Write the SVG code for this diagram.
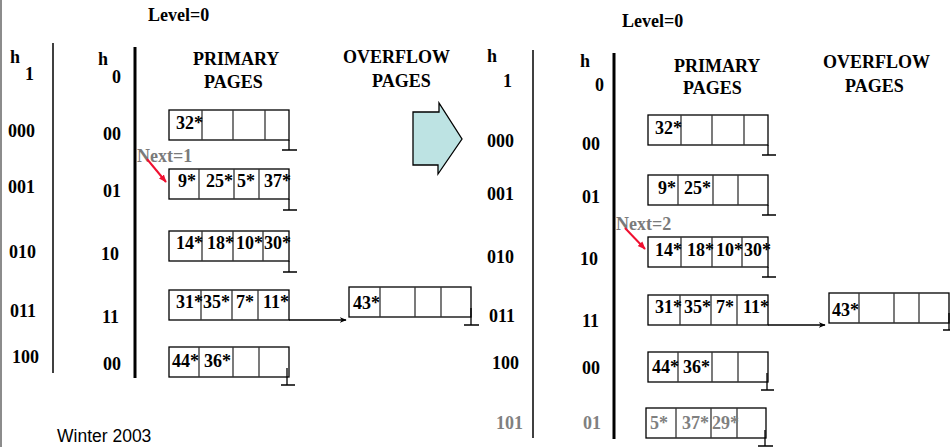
<svg xmlns="http://www.w3.org/2000/svg" width="950" height="447" viewBox="0 0 950 447">
  <style>
    .t { font-family: "Liberation Serif", "Times New Roman", serif; font-weight: bold; font-size: 18px; fill: #000; }
    .gr { fill: #808080; }
    .nx { fill: #7a7a7a; }
    .ft { font-family: "Liberation Sans", Arial, sans-serif; font-size: 17.5px; fill: #000; }
    .box { fill: #fff; stroke: #000; stroke-width: 1.3; }
    .div { stroke: #333; stroke-width: 1.3; }
    .gnd { stroke: #000; stroke-width: 1.3; fill: none; }
    .thin { stroke: #000; stroke-width: 1.5; }
    .thick { stroke: #000; stroke-width: 3; }
    .link { stroke: #000; stroke-width: 1.3; fill: none; }
    .red { stroke: #f01030; stroke-width: 2; fill: none; }
  </style>
  <defs>
    <marker id="ah" viewBox="0 0 10 10" refX="9" refY="5" markerWidth="7" markerHeight="7" markerUnits="userSpaceOnUse" orient="auto">
      <path d="M0,1 L10,5 L0,9 L3,5 Z" fill="#000"/>
    </marker>
    <marker id="ahr" viewBox="0 0 10 10" refX="9" refY="5" markerWidth="8" markerHeight="8" markerUnits="userSpaceOnUse" orient="auto">
      <path d="M0,1 L10,5 L0,9 Z" fill="#f01030"/>
    </marker>
  </defs>

  <rect x="0" y="0" width="950" height="447" fill="#fff"/>
  <!-- page edge -->
  <line x1="1" y1="0" x2="1" y2="447" stroke="#666" stroke-width="1.5"/>

  <!-- ===== before split ===== -->
  <g id="left-headers">
    <text class="t" x="148" y="21">Level=0</text>
    <text class="t" x="10" y="63">h</text>
    <text class="t" x="25" y="80">1</text>
    <text class="t" x="98" y="65">h</text>
    <text class="t" x="112" y="83">0</text>
    <text class="t" x="193" y="65">PRIMARY</text>
    <text class="t" x="204" y="88">PAGES</text>
    <text class="t" x="343" y="63">OVERFLOW</text>
    <text class="t" x="372" y="87">PAGES</text>
  </g>
  <g id="left-columns">
    <line class="thin" x1="53" y1="43" x2="53" y2="373"/>
    <line class="thick" x1="135" y1="47" x2="135" y2="378"/>
    <text class="t" x="8" y="137">000</text>
    <text class="t" x="8" y="193">001</text>
    <text class="t" x="9" y="258">010</text>
    <text class="t" x="10" y="317">011</text>
    <text class="t" x="12" y="363">100</text>
    <text class="t" x="103" y="140">00</text>
    <text class="t" x="103" y="197">01</text>
    <text class="t" x="101" y="260">10</text>
    <text class="t" x="102" y="323">11</text>
    <text class="t" x="103" y="370">00</text>
  </g>

  <g id="L-bucket-00">
    <rect class="box" x="169" y="110" width="120" height="30"/>
    <line class="div" x1="202" y1="110" x2="202" y2="140"/>
    <line class="div" x1="233" y1="110" x2="233" y2="140"/>
    <line class="div" x1="265" y1="110" x2="265" y2="140"/>
    <text class="t" x="176" y="129">32*</text>
    <path class="gnd" d="M289,140 V150 M282,150 H297"/>
  </g>
  <g id="L-bucket-01">
    <rect class="box" x="169" y="169" width="120" height="30"/>
    <line class="div" x1="199" y1="169" x2="199" y2="199"/>
    <line class="div" x1="234" y1="169" x2="234" y2="199"/>
    <line class="div" x1="259" y1="169" x2="259" y2="199"/>
    <text class="t" x="178" y="187">9*</text>
    <text class="t" x="206" y="187">25*</text>
    <text class="t" x="237" y="187">5*</text>
    <text class="t" x="264" y="187">37*</text>
    <path class="gnd" d="M289,199 V210 M283,210 H297"/>
  </g>
  <g id="L-bucket-10">
    <rect class="box" x="169" y="231" width="120" height="30"/>
    <line class="div" x1="202" y1="231" x2="202" y2="261"/>
    <line class="div" x1="233" y1="231" x2="233" y2="261"/>
    <line class="div" x1="263" y1="231" x2="263" y2="261"/>
    <text class="t" x="176" y="249">14*</text>
    <text class="t" x="207" y="249">18*</text>
    <text class="t" x="236" y="249">10*</text>
    <text class="t" x="264" y="249">30*</text>
    <path class="gnd" d="M289,261 V272 M283,272 H297"/>
  </g>
  <g id="L-bucket-11">
    <rect class="box" x="169" y="290" width="120" height="30"/>
    <line class="div" x1="201" y1="290" x2="201" y2="320"/>
    <line class="div" x1="232" y1="290" x2="232" y2="320"/>
    <line class="div" x1="258" y1="290" x2="258" y2="320"/>
    <text class="t" x="176" y="308">31*</text>
    <text class="t" x="203" y="308">35*</text>
    <text class="t" x="236" y="308">7*</text>
    <text class="t" x="263" y="308">11*</text>
  </g>
  <g id="L-bucket-100">
    <rect class="box" x="169" y="347" width="120" height="30"/>
    <line class="div" x1="199" y1="347" x2="199" y2="377"/>
    <line class="div" x1="233" y1="347" x2="233" y2="377"/>
    <line class="div" x1="259" y1="347" x2="259" y2="377"/>
    <text class="t" x="172" y="367">44*</text>
    <text class="t" x="204" y="367">36*</text>
    <path class="gnd" d="M287,368 V385 M281,385 H295"/>
  </g>
  <g id="L-overflow-11">
    <rect class="box" x="349" y="287" width="122" height="30"/>
    <line class="div" x1="380" y1="287" x2="380" y2="317"/>
    <line class="div" x1="415" y1="287" x2="415" y2="317"/>
    <line class="div" x1="441" y1="287" x2="441" y2="317"/>
    <text class="t" x="353" y="309">43*</text>
    <path class="gnd" d="M471,308 V325 M464,325 H479"/>
  </g>
  <g id="L-next">
    <text class="t nx" x="137" y="162">Next=1</text>
  </g>

  <!-- split step arrow -->
  <g id="step-arrow">
    <polygon points="413,112 439,112 439,103 462,139 438,174 438,165 413,165" fill="#bde3e3" stroke="#000" stroke-width="1.3"/>
  </g>

  <!-- ===== after split ===== -->
  <g id="right-headers">
    <text class="t" x="622" y="27">Level=0</text>
    <text class="t" x="487" y="62">h</text>
    <text class="t" x="503" y="87">1</text>
    <text class="t" x="580" y="67">h</text>
    <text class="t" x="595" y="91">0</text>
    <text class="t" x="674" y="72">PRIMARY</text>
    <text class="t" x="683" y="94">PAGES</text>
    <text class="t" x="823" y="68">OVERFLOW</text>
    <text class="t" x="845" y="92">PAGES</text>
  </g>
  <g id="right-columns">
    <line class="thin" x1="533" y1="50" x2="533" y2="438"/>
    <line class="thick" x1="614" y1="53" x2="614" y2="439"/>
    <text class="t" x="487" y="147">000</text>
    <text class="t" x="487" y="200">001</text>
    <text class="t" x="487" y="263">010</text>
    <text class="t" x="489" y="322">011</text>
    <text class="t" x="492" y="369">100</text>
    <text class="t gr" x="496" y="429">101</text>
    <text class="t" x="582" y="150">00</text>
    <text class="t" x="582" y="203">01</text>
    <text class="t" x="580" y="265">10</text>
    <text class="t" x="582" y="327">11</text>
    <text class="t" x="582" y="374">00</text>
    <text class="t gr" x="583" y="429">01</text>
  </g>

  <g id="R-bucket-000">
    <rect class="box" x="648" y="115" width="120" height="30"/>
    <line class="div" x1="681" y1="115" x2="681" y2="145"/>
    <line class="div" x1="712" y1="115" x2="712" y2="145"/>
    <line class="div" x1="744" y1="115" x2="744" y2="145"/>
    <text class="t" x="655" y="134">32*</text>
    <path class="gnd" d="M768,145 V155 M762,155 H776"/>
  </g>
  <g id="R-bucket-001">
    <rect class="box" x="648" y="175" width="120" height="30"/>
    <line class="div" x1="678" y1="175" x2="678" y2="205"/>
    <line class="div" x1="713" y1="175" x2="713" y2="205"/>
    <line class="div" x1="738" y1="175" x2="738" y2="205"/>
    <text class="t" x="658" y="194">9*</text>
    <text class="t" x="684" y="194">25*</text>
    <path class="gnd" d="M768,205 V215 M762,215 H776"/>
  </g>
  <g id="R-bucket-010">
    <rect class="box" x="648" y="237" width="120" height="30"/>
    <line class="div" x1="681" y1="237" x2="681" y2="267"/>
    <line class="div" x1="712" y1="237" x2="712" y2="267"/>
    <line class="div" x1="742" y1="237" x2="742" y2="267"/>
    <text class="t" x="655" y="256">14*</text>
    <text class="t" x="687" y="256">18*</text>
    <text class="t" x="716" y="256">10*</text>
    <text class="t" x="744" y="256">30*</text>
    <path class="gnd" d="M768,267 V277 M762,277 H776"/>
  </g>
  <g id="R-bucket-011">
    <rect class="box" x="648" y="295" width="120" height="30"/>
    <line class="div" x1="680" y1="295" x2="680" y2="325"/>
    <line class="div" x1="711" y1="295" x2="711" y2="325"/>
    <line class="div" x1="737" y1="295" x2="737" y2="325"/>
    <text class="t" x="655" y="313">31*</text>
    <text class="t" x="684" y="313">35*</text>
    <text class="t" x="716" y="313">7*</text>
    <text class="t" x="743" y="313">11*</text>
  </g>
  <g id="R-overflow-011">
    <rect class="box" x="829" y="293" width="120" height="30"/>
    <line class="div" x1="859" y1="293" x2="859" y2="323"/>
    <line class="div" x1="894" y1="293" x2="894" y2="323"/>
    <line class="div" x1="919" y1="293" x2="919" y2="323"/>
    <text class="t" x="832" y="316">43*</text>
    <path class="gnd" d="M949,313 V330 M943,330 H956"/>
  </g>
  <g id="R-bucket-100">
    <rect class="box" x="648" y="352" width="120" height="30"/>
    <line class="div" x1="678" y1="352" x2="678" y2="382"/>
    <line class="div" x1="712" y1="352" x2="712" y2="382"/>
    <line class="div" x1="738" y1="352" x2="738" y2="382"/>
    <text class="t" x="652" y="373">44*</text>
    <text class="t" x="683" y="373">36*</text>
    <path class="gnd" d="M767,373 V390 M761,390 H774"/>
  </g>
  <g id="R-bucket-101">
    <rect class="box" x="646" y="408" width="120" height="30"/>
    <line class="div" x1="676" y1="408" x2="676" y2="438"/>
    <line class="div" x1="711" y1="408" x2="711" y2="438"/>
    <line class="div" x1="737" y1="408" x2="737" y2="438"/>
    <text class="t gr" x="650" y="429">5*</text>
    <text class="t gr" x="682" y="429">37*</text>
    <text class="t gr" x="712" y="429">29*</text>
    <path class="gnd" d="M765,430 V446 M758,446 H773"/>
  </g>
  <g id="R-next">
    <text class="t nx" x="616" y="230">Next=2</text>
  </g>

  <g id="connectors">
    <line class="link" x1="289" y1="320" x2="346" y2="320" marker-end="url(#ah)"/>
    <line class="link" x1="768" y1="325" x2="825" y2="325" marker-end="url(#ah)"/>
    <line class="red" x1="147" y1="159" x2="166" y2="182" marker-end="url(#ahr)"/>
    <line class="red" x1="625" y1="228" x2="645" y2="249" marker-end="url(#ahr)"/>
  </g>

  <text class="ft" x="57" y="442">Winter 2003</text>
</svg>
